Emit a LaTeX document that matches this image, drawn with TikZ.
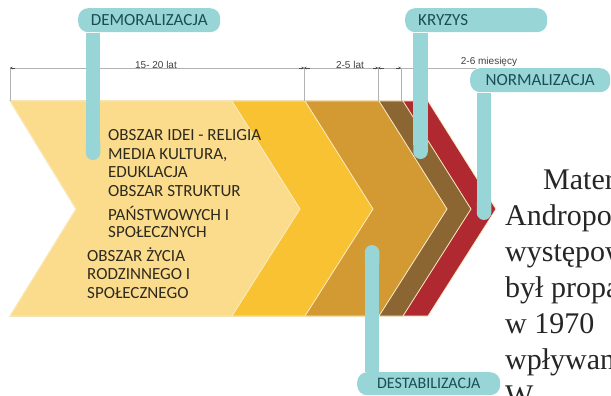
\documentclass[tikz,border=0pt]{standalone}
\usepackage{fontspec}
\setmainfont{Liberation Serif}
\newfontfamily\calfont{Carlito}
\newfontfamily\arialfont{Liberation Sans}
\usetikzlibrary{arrows.meta}
\usetikzlibrary{positioning}
\definecolor{mteal}{RGB}{152,213,214}
\definecolor{mdark}{RGB}{27,78,84}
\definecolor{mlight}{RGB}{251,220,140}
\definecolor{mgold}{RGB}{249,194,50}
\definecolor{mochre}{RGB}{211,154,51}
\definecolor{mbrown}{RGB}{139,102,51}
\definecolor{mred}{RGB}{176,40,48}
\definecolor{mline}{RGB}{250,236,196}
\definecolor{mink}{RGB}{45,42,30}
\tikzset{tag/.style = {fill=mteal, rounded corners=10pt, text=mdark, inner sep=0,
    minimum height=24pt, font=\calfont\fontsize{17}{17}\selectfont}}
\tikzset{stem/.style = {draw=mteal, line width=14.5pt, -{Round Cap[]}}}
\tikzset{dim/.style = {draw=gray!60, line width=0.8pt}}
\tikzset{dimtip/.style = {draw=black!70, line width=0.8pt, -{Stealth[length=2.5pt, width=2.5pt]}}}
\tikzset{dimlabel/.style = {font=\arialfont\fontsize{10}{10}\selectfont, text=black!75, inner sep=0}}
\tikzset{area/.style = {font=\calfont\fontsize{17}{18.4}\selectfont, text=mink, align=left, inner sep=0}}

\begin{document}
\begin{tikzpicture}[x=1pt, y=-1pt]
    \clip (0,0) rectangle (611,396);
    \path [use as bounding box] (0,0) rectangle (611,396);

    % chevrons, back to front
    \foreach \r/\c in {428/mred, 403/mbrown, 379/mochre, 305/mgold, 232/mlight} {
      \pgfmathsetmacro\t{\r + 68}
      \filldraw [fill=\c, draw=mline, line width=0.8pt]
        (10,101) -- (\r,101) -- (\t,209) -- (\r,316) -- (10,316) -- (76,209) -- cycle;
    }

    % time scale
    \coordinate (d0) at (10,68);
    \coordinate (d1) at (304,68);
    \coordinate (d2) at (378,68);
    \coordinate (d3) at (401,68);
    \coordinate (dend) at (476,68);
    \draw [dim] (d0) -- (dend);
    \foreach \p in {d0,d1,d2,d3} {
      \draw [dim] (\p) -- ++(0,33);
    }
    \draw [dimtip] ([xshift=5pt]d0) -- (d0);
    \foreach \p in {d1,d2} {
      \draw [dimtip] ([xshift=-5pt]\p) -- (\p);
      \draw [dimtip] ([xshift=6pt]\p) -- (\p);
    }
    \draw [dimtip] ([xshift=-5pt]d3) -- (d3);

    \node [dimlabel, anchor=base] (years1) at (156,69) {15- 20 lat};
    \node [dimlabel, anchor=base] (years2) at (350,69) {2-5 lat};
    \node [dimlabel, anchor=base] (months) at (489,65) {2-6 miesięcy};

    % areas (base = last line)
    \node [area, anchor=base west] (ideas) at (108,196)
      {OBSZAR IDEI - RELIGIA\\MEDIA KULTURA,\\EDUKLACJA\\OBSZAR STRUKTUR};
    \node [area, anchor=base west, font=\calfont\fontsize{17}{17}\selectfont] (state) at (108,237)
      {PAŃSTWOWYCH I\\SPOŁECZNYCH};
    \node [area, anchor=base west] (life) at (87,298.3)
      {OBSZAR ŻYCIA\\RODZINNEGO I\\SPOŁECZNEGO};

    % phases
    \node [tag, minimum width=142pt, anchor=north west] (demor) at (78,8) {DEMORALIZACJA};
    \node [tag, anchor=north west, text width=116pt, inner xsep=13pt, align=left] (crisis) at (405,8) {KRYZYS};
    \node [tag, minimum width=140pt, anchor=north west] (normal) at (470,68) {NORMALIZACJA};
    \node [tag, minimum width=143pt, minimum height=23pt, anchor=north west,
      font=\calfont\fontsize{16}{16}\selectfont] (destab) at (357,372) {DESTABILIZACJA};

    \coordinate (demorEnd) at (93,160);
    \coordinate (crisisEnd) at (420.5,159);
    \coordinate (normalEnd) at (484,220);
    \coordinate (destabEnd) at (372,245);
    \draw [stem] ([yshift=-0.5pt]demor.south -| demorEnd) -- (demorEnd);
    \draw [stem] ([yshift=-0.5pt]crisis.south -| crisisEnd) -- (crisisEnd);
    \draw [stem] ([yshift=-0.5pt]normal.south -| normalEnd) -- (normalEnd);
    \draw [stem] ([yshift=0.5pt]destab.north -| destabEnd) -- (destabEnd);

    % page text beside the figure (base = last line)
    \node [anchor=base west, inner sep=0, align=left, text=black!85,
      font=\fontsize{30}{36}\selectfont] (page) at (505,405)
      {\hspace*{38pt}Mater\\Andropo\\występow\\był propa\\w 1970\\wpływan\\W};
\end{tikzpicture}
\end{document}
